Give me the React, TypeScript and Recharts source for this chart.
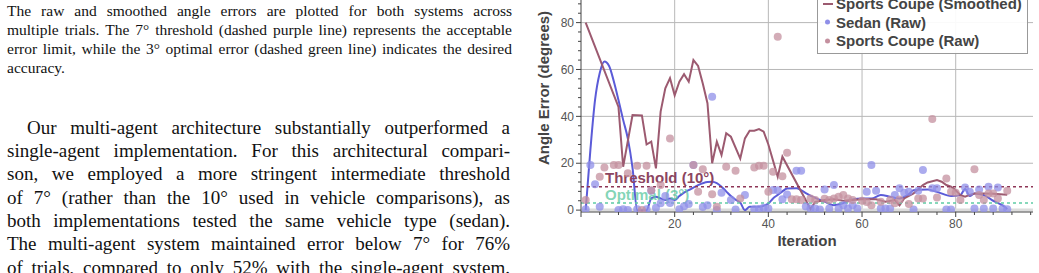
import { ComposedChart, Line, Scatter, XAxis, YAxis, CartesianGrid, ReferenceLine, Legend } from 'recharts';

// iteration -> angle error (degrees)
const sedanSmoothIter = [1, 2, 3, 4, 5, 6, 7, 8, 9, 10, 11, 12, 14, 15, 16, 18, 19, 20, 21, 22, 23, 25, 27, 28, 29, 30, 31, 32, 33, 34, 35, 36, 38, 39, 40, 41, 42, 43, 44, 46, 47, 48, 50, 52, 54, 56, 58, 60, 62, 64, 66, 68, 70, 71, 72, 74, 76, 79, 81, 82, 83, 84, 86, 88, 90, 91];
const sedanSmoothErr = [0, 25.6, 47, 58.5, 63.4, 61.5, 55, 47, 38.5, 30.5, 18, 0, 0, 5, 5.7, 4.3, 5, 4.3, 6, 7.5, 8.5, 10.7, 12, 12.1, 11.5, 10, 8, 6, 4.5, 3.2, 0, 1.4, 1.4, 1.8, 2.8, 5, 6.5, 8, 9.2, 9.3, 8.5, 7.3, 5.2, 3.6, 2.1, 3, 4.5, 5, 5, 6.4, 5.7, 5, 6.8, 8.5, 8.7, 8.8, 7.8, 6, 6.4, 9, 6, 7.1, 6.4, 4, 2, 0.5];

const coupeSmoothIter = [1, 8, 9, 11, 13, 14, 15, 16, 17, 18, 19, 20, 21, 22, 23, 24, 25, 26, 27, 28, 29, 30, 31, 32, 34, 35, 36, 37, 38, 39, 40, 42, 43, 49, 50, 52, 54, 56, 58, 60, 63, 65, 67, 68, 69, 71, 73, 74, 76, 77, 78, 79, 80, 81, 82, 83, 84, 86, 88, 91];
const coupeSmoothErr = [80, 44, 18.5, 40.6, 40.4, 28, 29.2, 17.8, 42, 52, 56.3, 49, 54.8, 58, 54.8, 64, 61.5, 54, 45.6, 20, 29.2, 23.5, 32.8, 31.3, 22, 30.6, 33.9, 33.9, 34.6, 33.5, 28, 14.2, 22.8, 0.5, 3.5, 4.3, 4.6, 4, 4.3, 4.6, 4.6, 3.6, 4.3, 2, 5, 7.1, 10.7, 11.8, 12.8, 12.1, 10.7, 10, 8.5, 6.4, 5.7, 6.5, 7.1, 7.1, 7, 6.6];

const sedanRawIter = [1, 2, 3, 4, 8, 9, 10, 12, 14, 15, 16, 17, 18, 19, 21, 22, 23, 24, 26, 27, 28, 29, 30, 32, 33, 35, 37, 38, 39, 40, 41, 42, 43, 44, 46, 47, 48, 49, 50, 51, 52, 53, 54, 55, 56, 57, 58, 59, 61, 62, 63, 64, 65, 66, 67, 68, 69, 70, 71, 72, 73, 75, 76, 78, 79, 82, 83, 84, 85, 86, 87, 88, 89, 90, 91];
const sedanRawErr = [0.4, 19.2, 11, 1.4, 0, 0.4, 0, 0.4, 0.4, 8.3, 1, 2.9, 6, 3, 0.4, 1.7, 2.6, 19.2, 1.3, 2.1, 48.4, 0, 7.4, 4.3, 0.3, 6.5, 0.4, 0.5, 1, 0.7, 8.6, 8.5, 4.6, 6.7, 16.8, 16.8, 1.5, 0.7, 0.7, 0.3, 8.8, 0.7, 10.7, 0.7, 2.1, 0.7, 2.1, 0.7, 7.8, 19.2, 8.3, 0.7, 0.7, 0.7, 6.4, 9.3, 7.4, 7.8, 0.3, 8.3, 17.1, 9.3, 9.3, 0.3, 0.3, 9.7, 7.8, 0.7, 8.8, 0.7, 10, 0.7, 9.7, 0.7, 0.4];

const coupeRawIter = [1, 4, 5, 7, 8, 10, 12, 13, 14, 15, 17, 19, 24, 25, 26, 28, 29, 31, 33, 34, 37, 38, 39, 40, 41, 42, 43, 44, 45, 46, 47, 49, 50, 52, 53, 54, 55, 56, 57, 58, 60, 61, 62, 64, 66, 67, 68, 70, 72, 73, 75, 76, 78, 79, 80, 81, 84, 85, 86, 87, 88, 89, 91];
const coupeRawErr = [4.3, 14.2, 18.2, 19.2, 19.2, 15.7, 18.9, 0, 18.9, 8.5, 10.7, 30.6, 19.2, 7.8, 17.4, 6.8, 1.4, 18.5, 16.8, 5, 18.2, 18.9, 18.9, 7.8, 16.4, 74, 14.5, 24.5, 4.6, 4.6, 4.3, 5, 4.3, 4.8, 4.3, 5, 5.7, 6.4, 5, 4.3, 4, 3.5, 2.1, 3.6, 4.3, 2.9, 4.5, 2.6, 5, 5, 38.9, 5.4, 13.5, 7.8, 7.4, 4.3, 17.4, 6.4, 4.3, 7.1, 7.1, 5, 8.3];

const THRESHOLD = 10;
const OPTIMAL = 3;

const xTicks = Array.from({ length: 25 }, (_, i) => i * 4);
const yTicks = Array.from({ length: 27 }, (_, i) => i * 4);

const captionLines = [
  'The raw and smoothed angle errors are plotted for both systems across',
  'multiple trials. The 7° threshold (dashed purple line) represents the acceptable',
  'error limit, while the 3° optimal error (dashed green line) indicates the desired',
  'accuracy.',
];

const bodyLines = [
  'Our multi-agent architecture substantially outperformed a',
  'single-agent implementation. For this architectural compari-',
  'son, we employed a more stringent intermediate threshold',
  'of 7° (rather than the 10° used in vehicle comparisons), as',
  'both implementations tested the same vehicle type (sedan).',
  'The multi-agent system maintained error below 7° for 76%',
  'of trials, compared to only 52% with the single-agent system.',
];

const zip = (xs: number[], ys: number[]) => xs.map((x, i) => ({ x, y: ys[i] }));

const sedanSmooth = zip(sedanSmoothIter, sedanSmoothErr);
const coupeSmooth = zip(coupeSmoothIter, coupeSmoothErr);
const sedanRaw = zip(sedanRawIter, sedanRawErr);
const coupeRaw = zip(coupeRawIter, coupeRawErr);

const SANS = '"Liberation Sans", Arial, sans-serif';
const SERIF = '"Liberation Serif", "Times New Roman", serif';

const SEDAN = '#5b5bd8';
const COUPE = '#9c5a70';
const SEDAN_DOT = '#8f8fe8';
const COUPE_DOT = '#c4909f';

const legendItems = [
  { name: 'Sedan (Smoothed)', kind: 'line', color: SEDAN },
  { name: 'Sports Coupe (Smoothed)', kind: 'line', color: COUPE },
  { name: 'Sedan (Raw)', kind: 'dot', color: SEDAN_DOT },
  { name: 'Sports Coupe (Raw)', kind: 'dot', color: COUPE_DOT },
];

const YTick = (props: any) => {
  const { x, y, payload } = props;
  const v = payload.value;
  const major = v % 20 === 0;
  return (
    <g>
      <line x1={x + (major ? 2 : 4)} x2={x + 7} y1={y} y2={y} stroke="#444" />
      {major && (
        <text x={x} y={y} dy="0.35em" textAnchor="end" fontSize={12} fill="#555" fontFamily={SANS}>
          {v}
        </text>
      )}
    </g>
  );
};

const XTick = (props: any) => {
  const { x, y, payload } = props;
  const v = payload.value;
  const major = v % 20 === 0;
  return (
    <g>
      <line x1={x} x2={x} y1={y - 7} y2={y - (major ? 2 : 4)} stroke="#444" />
      {major && v > 0 && (
        <text x={x} y={y} dy="0.71em" textAnchor="middle" fontSize={12} fill="#555" fontFamily={SANS}>
          {v}
        </text>
      )}
    </g>
  );
};

const LegendBox = () => (
  <div
    style={{
      width: 211,
      height: 81,
      boxSizing: 'border-box',
      border: '1px solid #999',
      background: 'rgba(255,255,255,0.92)',
      paddingTop: 2.5,
      fontFamily: SANS,
      fontWeight: 'bold',
      fontSize: 15,
      color: '#444',
    }}
  >
    {legendItems.map((it) => (
      <div key={it.name} style={{ height: 18.5, display: 'flex', alignItems: 'center', whiteSpace: 'nowrap' }}>
        <svg width={18} height={10} style={{ flex: 'none' }}>
          {it.kind === 'line' ? (
            <line x1={5} x2={15} y1={5} y2={5} stroke={it.color} strokeWidth={2} />
          ) : (
            <circle cx={9.5} cy={5} r={2.5} fill={it.color} />
          )}
        </svg>
        <span>{it.name}</span>
      </div>
    ))}
  </div>
);

const dot = (color: string) => (p: any) => <circle cx={p.cx} cy={p.cy} r={4} fill={color} fillOpacity={0.75} />;

export default function App() {
  return (
    <div style={{ position: 'absolute', left: 0, top: 0, width: 1039, height: 273, overflow: 'hidden', background: '#fff' }}>
      <div style={{ position: 'absolute', left: 7, top: 1.3, width: 505, fontFamily: SERIF, fontSize: 15.5, lineHeight: '19px', color: '#111' }}>
        {captionLines.map((l, i) => (
          <div key={i} style={{ whiteSpace: 'nowrap', textAlign: 'justify', textAlignLast: i < captionLines.length - 1 ? 'justify' : 'left' }}>
            {l}
          </div>
        ))}
      </div>
      <div style={{ position: 'absolute', left: 7, top: 115.8, width: 503, fontFamily: SERIF, fontSize: 19, lineHeight: '23.3px', color: '#111' }}>
        {bodyLines.map((l, i) => (
          <div key={i} style={{ whiteSpace: 'nowrap', textAlign: 'justify', textAlignLast: 'justify', paddingLeft: i === 0 ? 20 : 0 }}>
            {l}
          </div>
        ))}
      </div>

      <div style={{ position: 'absolute', left: 520, top: -60, width: 519, height: 320 }}>
        <ComposedChart width={519} height={320} margin={{ top: 24, right: 6, bottom: 18, left: 21 }}>
          <CartesianGrid horizontalValues={[20, 40, 60, 80, 100]} verticalValues={[20, 40, 60, 80]} stroke="#b8b8b8" />
          <ReferenceLine y={0} stroke="#dcdcdc" strokeWidth={3} />
          <XAxis
            type="number"
            dataKey="x"
            domain={[0, 96.5]}
            allowDataOverflow
            ticks={xTicks}
            interval={0}
            tickSize={5}
            tickMargin={2}
            height={30}
            tickLine={false}
            axisLine={{ stroke: '#444' }}
            tick={<XTick />}
            label={() => (
              <text x={287} y={300} textAnchor="middle" dominantBaseline="central" fontFamily={SANS} fontWeight="bold" fontSize={15} fill="#444">
                Iteration
              </text>
            )}
          />
          <YAxis
            type="number"
            domain={[-0.8, 105]}
            allowDataOverflow
            ticks={yTicks}
            interval={0}
            tickSize={5}
            tickMargin={2}
            width={40}
            tickLine={false}
            axisLine={{ stroke: '#444' }}
            tick={<YTick />}
            label={() => (
              <text x={23} y={148} transform="rotate(-90 23 148)" textAnchor="middle" dominantBaseline="central" fontFamily={SANS} fontWeight="bold" fontSize={15} fill="#444">
                Angle Error (degrees)
              </text>
            )}
          />
          <Scatter name="Sedan (Raw)" data={sedanRaw} dataKey="y" shape={dot(SEDAN_DOT)} isAnimationActive={false} />
          <Scatter name="Sports Coupe (Raw)" data={coupeRaw} dataKey="y" shape={dot(COUPE_DOT)} isAnimationActive={false} />
          <Line name="Sedan (Smoothed)" data={sedanSmooth} dataKey="y" type="monotone" stroke={SEDAN} strokeWidth={2} dot={false} isAnimationActive={false} />
          <Line name="Sports Coupe (Smoothed)" data={coupeSmooth} dataKey="y" type="linear" stroke={COUPE} strokeWidth={2} dot={false} isAnimationActive={false} />
          <ReferenceLine
            y={THRESHOLD}
            stroke="#8e3556"
            strokeWidth={1.5}
            strokeDasharray="3 3"
            label={(p: any) => (
              <text x={85} y={p.viewBox.y - 4} fontFamily={SANS} fontWeight="bold" fontSize={15} fill="#8c4560">
                Threshold (10°)
              </text>
            )}
          />
          <ReferenceLine
            y={OPTIMAL}
            stroke="#5fcca5"
            strokeWidth={1.5}
            strokeDasharray="3 3"
            label={(p: any) => (
              <text x={85} y={p.viewBox.y - 3} fontFamily={SANS} fontWeight="bold" fontSize={15} fill="#5cc8a0" fillOpacity={0.75}>
                Optimal (3°)
              </text>
            )}
          />
          <Legend
            layout="vertical"
            align="center"
            verticalAlign="middle"
            content={() => <LegendBox />}
            wrapperStyle={{ left: 297, top: 32.5, width: 211, height: 81 }}
          />
        </ComposedChart>
      </div>
    </div>
  );
}
